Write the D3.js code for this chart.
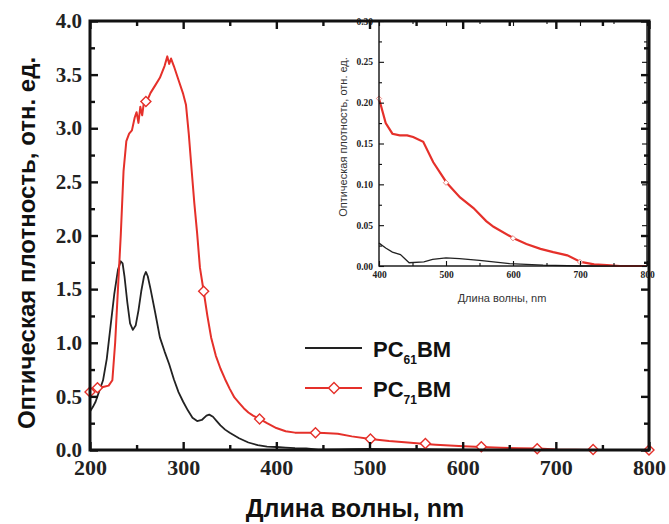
<!DOCTYPE html>
<html><head><meta charset="utf-8">
<script src="https://cdn.jsdelivr.net/npm/d3@7/dist/d3.min.js"></script>
<style>body{margin:0;background:#fff}svg{display:block}</style>
</head><body>
<svg id="c" width="669" height="524"></svg>
<script>
// ---- data ----
const lam61 = [200,203,206,210,214,218,222,226,230,233,235,237,240,243,246,249,252,255,258,260,262,265,270,275,280,285,290,295,300,305,310,315,320,325,328,332,336,340,345,350,360,370,380,390,400,410,420,432,445,467,480,500,520,550,595,645,700,750,800];
const val61 = [0.36,0.40,0.45,0.55,0.65,0.85,1.15,1.45,1.68,1.76,1.74,1.62,1.38,1.18,1.12,1.16,1.30,1.48,1.62,1.66,1.62,1.50,1.28,1.05,0.92,0.80,0.66,0.54,0.45,0.37,0.30,0.27,0.28,0.32,0.33,0.31,0.27,0.23,0.19,0.16,0.11,0.07,0.045,0.032,0.028,0.022,0.017,0.014,0.004,0.005,0.008,0.010,0.009,0.007,0.003,0.001,0,0,0];
const lam71 = [200,203,206,210,215,220,224,227,230,233,236,239,242,245,248,250,252,254,256,258,261,265,270,275,280,283,285,287,290,295,300,303,306,309,312,315,318,322,326,330,335,340,345,350,355,360,365,370,375,382,390,400,410,420,431,442,451,466,481,501,521,541,560,571,601,620,641,660,681,701,721,740,760,800];
const val71 = [0.54,0.57,0.59,0.58,0.59,0.60,0.65,1.00,1.50,2.00,2.60,2.88,2.95,2.98,3.10,3.15,3.05,3.20,3.12,3.25,3.25,3.33,3.40,3.47,3.58,3.67,3.60,3.65,3.58,3.45,3.32,3.22,2.95,2.62,2.30,2.02,1.70,1.48,1.25,1.05,0.88,0.76,0.66,0.57,0.49,0.44,0.39,0.35,0.32,0.29,0.25,0.205,0.175,0.162,0.160,0.160,0.158,0.152,0.127,0.102,0.084,0.071,0.055,0.048,0.034,0.027,0.021,0.017,0.013,0.005,0.002,0.001,0,0];
const markLam71 = [200,208,260,322,382,442,501,560,620,680,740,800];
const markVal71 = [0.54,0.58,3.25,1.48,0.29,0.16,0.102,0.06,0.03,0.012,0.004,0];
const insetMarkLam = [400,500,600,700];
const insetMarkVal = [0.205,0.102,0.034,0.005];
const xTicks = [200,300,400,500,600,700,800];
const yTicks = [0.0,0.5,1.0,1.5,2.0,2.5,3.0,3.5,4.0];
const insetXTicks = [400,500,600,700,800];
const insetYTicks = [0.00,0.05,0.10,0.15,0.20,0.25,0.30];
const seriesNames = ["61","71"];
const yTitle = "Оптическая плотность, отн. ед.";
const xTitle = "Длина волны, nm";

const RED = "#e5302a", BLACK = "#222";
const svg = d3.select("#c");

// ---- main scales ----
const x = d3.scaleLinear().domain([200,800]).range([90,649]);
const y = d3.scaleLinear().domain([0,4]).range([450,21]);

const line = (xs, ys) => d3.line().x(d=>xs(d[0])).y(d=>ys(d[1]));
const d61 = lam61.map((l,i)=>[l,val61[i]]);
const d71 = lam71.map((l,i)=>[l,val71[i]]);

svg.append("path").datum(d61).attr("d", line(x,y)).attr("fill","none").attr("stroke",BLACK).attr("stroke-width",1.8).attr("stroke-linejoin","round");
svg.append("path").datum(d71).attr("d", line(x,y)).attr("fill","none").attr("stroke",RED).attr("stroke-width",2).attr("stroke-linejoin","round");
const diamond = d3.symbol().type(d3.symbolDiamond2 || d3.symbolDiamond);
svg.selectAll(".mk").data(markLam71.map((l,i)=>[l,markVal71[i]])).join("path")
  .attr("d", d3.symbol().type(d3.symbolSquare).size(50)())
  .attr("transform", d=>`translate(${x(d[0])},${y(d[1])}) rotate(45)`)
  .attr("fill","#fff").attr("stroke",RED).attr("stroke-width",1.4);

// ---- inset ----
const ix = d3.scaleLinear().domain([400,800]).range([379,647]);
const iy = d3.scaleLinear().domain([0,0.30]).range([266,21]);
const ig = svg.append("g");
ig.append("rect").attr("x",379).attr("y",21).attr("width",268).attr("height",245).attr("fill","#fff");
ig.append("path").datum(d61.filter(d=>d[0]>=400)).attr("d", line(ix,iy)).attr("fill","none").attr("stroke",BLACK).attr("stroke-width",1.3);
ig.append("path").datum(d71.filter(d=>d[0]>=400)).attr("d", line(ix,iy)).attr("fill","none").attr("stroke",RED).attr("stroke-width",2.2);
ig.selectAll(".imk").data(insetMarkLam.map((l,i)=>[l,insetMarkVal[i]])).join("path")
  .attr("d", d3.symbol().type(d3.symbolSquare).size(14)())
  .attr("transform", d=>`translate(${ix(d[0])},${iy(d[1])}) rotate(45)`)
  .attr("fill","#fff").attr("stroke","#e8857f").attr("stroke-width",0.9);

function frame(g, xs, ys, xt, yt, xMinor, yMinor, maj, min, sw, fmtX, fmtY, fontX, fontY, padX, padY){
  const [x0,x1] = xs.range(), [y0,y1] = ys.range();
  const ax = d3.axisBottom(xs).tickValues(xt).tickSize(-maj).tickPadding(padX).tickFormat(fmtX);
  const gb = g.append("g").attr("transform",`translate(0,${y0})`).call(ax);
  const ay = d3.axisLeft(ys).tickValues(yt).tickSize(-maj).tickPadding(padY).tickFormat(fmtY);
  const gl = g.append("g").attr("transform",`translate(${x0},0)`).call(ay);
  const gt = g.append("g").attr("transform",`translate(0,${y1})`).call(d3.axisTop(xs).tickValues(xt).tickSize(-maj).tickFormat(""));
  const gr = g.append("g").attr("transform",`translate(${x1},0)`).call(d3.axisRight(ys).tickValues(yt).tickSize(-maj).tickFormat(""));
  g.append("g").attr("transform",`translate(0,${y0})`).call(d3.axisBottom(xs).tickValues(xMinor).tickSize(-min).tickFormat(""));
  g.append("g").attr("transform",`translate(0,${y1})`).call(d3.axisTop(xs).tickValues(xMinor).tickSize(-min).tickFormat(""));
  g.append("g").attr("transform",`translate(${x0},0)`).call(d3.axisLeft(ys).tickValues(yMinor).tickSize(-min).tickFormat(""));
  g.append("g").attr("transform",`translate(${x1},0)`).call(d3.axisRight(ys).tickValues(yMinor).tickSize(-min).tickFormat(""));
  g.selectAll(".domain").remove();
  g.selectAll(".tick line").attr("stroke","#111").attr("stroke-width",sw*0.8);
  g.append("rect").attr("x",x0).attr("y",y1).attr("width",x1-x0).attr("height",y0-y1).attr("fill","none").attr("stroke","#111").attr("stroke-width",sw);
  gb.selectAll("text").attr("font-family","'Liberation Serif','Times New Roman',serif").attr("font-weight","bold").attr("font-size",fontX).attr("fill","#222");
  gl.selectAll("text").attr("font-family","'Liberation Serif','Times New Roman',serif").attr("font-weight","bold").attr("font-size",fontY).attr("fill","#222");
}
frame(ig, ix, iy, insetXTicks, insetYTicks, [450,550,650,750], [0.025,0.075,0.125,0.175,0.225,0.275], 5, 3, 1.4,
  d3.format("d"), d3.format(".2f"), 9.5, 9.5, 5, 6);
ig.append("text").attr("x",502).attr("y",302).attr("text-anchor","middle")
  .attr("font-family","'Liberation Sans',Arial,sans-serif").attr("font-size",11).attr("fill","#333").text(xTitle);
ig.append("text").attr("transform","translate(347,137) rotate(-90)").attr("text-anchor","middle")
  .attr("font-family","'Liberation Sans',Arial,sans-serif").attr("font-size",11).attr("fill","#333").text(yTitle);

// ---- main frame ----
const mg = svg.append("g");
frame(mg, x, y, xTicks, yTicks, [250,350,450,550,650,750], [0.25,0.75,1.25,1.75,2.25,2.75,3.25,3.75], 8, 5, 3,
  d3.format("d"), d3.format(".1f"), 22, 21, 9, 8);

mg.append("text").attr("x",355).attr("y",517).attr("text-anchor","middle")
  .attr("font-family","'Liberation Sans',Arial,sans-serif").attr("font-weight","bold").attr("font-size",25).attr("fill","#111").text(xTitle);
mg.append("text").attr("transform","translate(35,243) rotate(-90)").attr("text-anchor","middle")
  .attr("font-family","'Liberation Sans',Arial,sans-serif").attr("font-weight","bold").attr("font-size",24).attr("fill","#111").text(yTitle);

// ---- legend ----
const lg = svg.append("g");
const legY = [348,388];
const legColors = [BLACK, RED];
seriesNames.forEach((s,i)=>{
  lg.append("line").attr("x1",305).attr("x2",362).attr("y1",legY[i]).attr("y2",legY[i]).attr("stroke",legColors[i]).attr("stroke-width",2);
  if(i===1){
    lg.append("path").attr("d", d3.symbol().type(d3.symbolSquare).size(60)())
      .attr("transform",`translate(334,${legY[i]}) rotate(45)`).attr("fill","#fff").attr("stroke",RED).attr("stroke-width",1.4);
  }
  const t = lg.append("text").attr("x",373).attr("y",legY[i]+9)
    .attr("font-family","'Liberation Sans',Arial,sans-serif").attr("font-weight","bold").attr("font-size",22).attr("fill","#111");
  t.append("tspan").text("PC");
  t.append("tspan").attr("font-size",12).attr("dy",7).text(s);
  t.append("tspan").attr("dy",-7).text("BM");
});
</script>
</body></html>
